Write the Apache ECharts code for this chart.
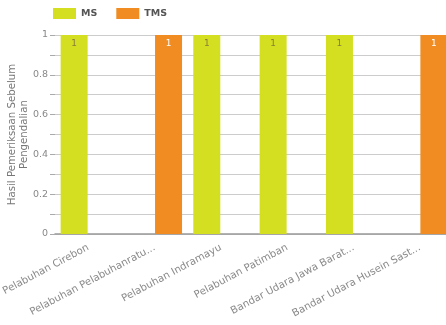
<!DOCTYPE html>
<html><head><meta charset="utf-8">
<script src="https://cdn.jsdelivr.net/npm/echarts@6/dist/echarts.min.js"></script>
<style>html,body{margin:0;padding:0;background:#fff;overflow:hidden}#c{width:446px;height:325px}</style>
</head><body><div id="c"></div>
<script>
const categories = ["Pelabuhan Cirebon","Pelabuhan Pelabuhanratu Sukabumi","Pelabuhan Indramayu","Pelabuhan Patimban","Bandar Udara Jawa Barat Kertajati","Bandar Udara Husein Sastranegara"];
const seriesNames = ["MS","TMS"];
const msValues = [1, null, 1, 1, 1, null];
const tmsValues = [null, 1, null, null, null, 1];
const yTicks = [0, 0.2, 0.4, 0.6, 0.8, 1];
const yAxisName = "Hasil Pemeriksaan Sebelum\nPengendalian";

const FONT = "DejaVu Sans";
const chart = echarts.init(document.getElementById('c'), null, {renderer:'canvas'});
chart.setOption({
  animation:false,
  textStyle:{fontFamily:FONT},
  legend:{left:48, top:3, itemWidth:23, itemHeight:11, itemGap:19, icon:'rect',
    textStyle:{fontSize:9.5, color:'#555', fontWeight:'bold', fontFamily:FONT}},
  grid:{left:55, top:35, width:398, height:199, containLabel:false, outerBoundsMode:'none'},
  xAxis:{type:'category', data:categories,
    axisLine:{lineStyle:{color:'#999', width:1.5}}, axisTick:{show:false},
    axisLabel:{rotate:28, interval:0, fontSize:10.2, color:'#8a8a8a', margin:13, fontFamily:FONT,
      formatter:v=> v.length>24 ? v.slice(0,24).trim()+'...' : v}},
  yAxis:{type:'value', min:yTicks[0], max:yTicks[yTicks.length-1], interval:0.2,
    name:yAxisName, nameLocation:'middle', nameGap:25, nameRotate:90, nameMoveOverlap:false,
    nameTextStyle:{fontSize:10.2, color:'#777', lineHeight:12, fontFamily:FONT},
    axisLine:{show:false},
    axisTick:{show:true, length:5, lineStyle:{color:'#aaa'}},
    minorTick:{show:true, splitNumber:2, length:5, lineStyle:{color:'#aaa'}},
    splitLine:{lineStyle:{color:'#ccc'}},
    minorSplitLine:{show:true, lineStyle:{color:'#ccc'}},
    axisLabel:{fontSize:9.5, color:'#888', margin:7, fontFamily:FONT}},
  series:[
    {name:seriesNames[0], type:'bar', data:msValues, itemStyle:{color:'#d4df22'},
     barWidth:27, barGap:'4%',
     label:{show:true, position:'insideTop', fontSize:9, color:'#8a7d3a', distance:4}},
    {name:seriesNames[1], type:'bar', data:tmsValues, itemStyle:{color:'#f08c21'},
     barWidth:27,
     label:{show:true, position:'insideTop', fontSize:9, color:'#fff', distance:4}}
  ]
});
</script></body></html>
